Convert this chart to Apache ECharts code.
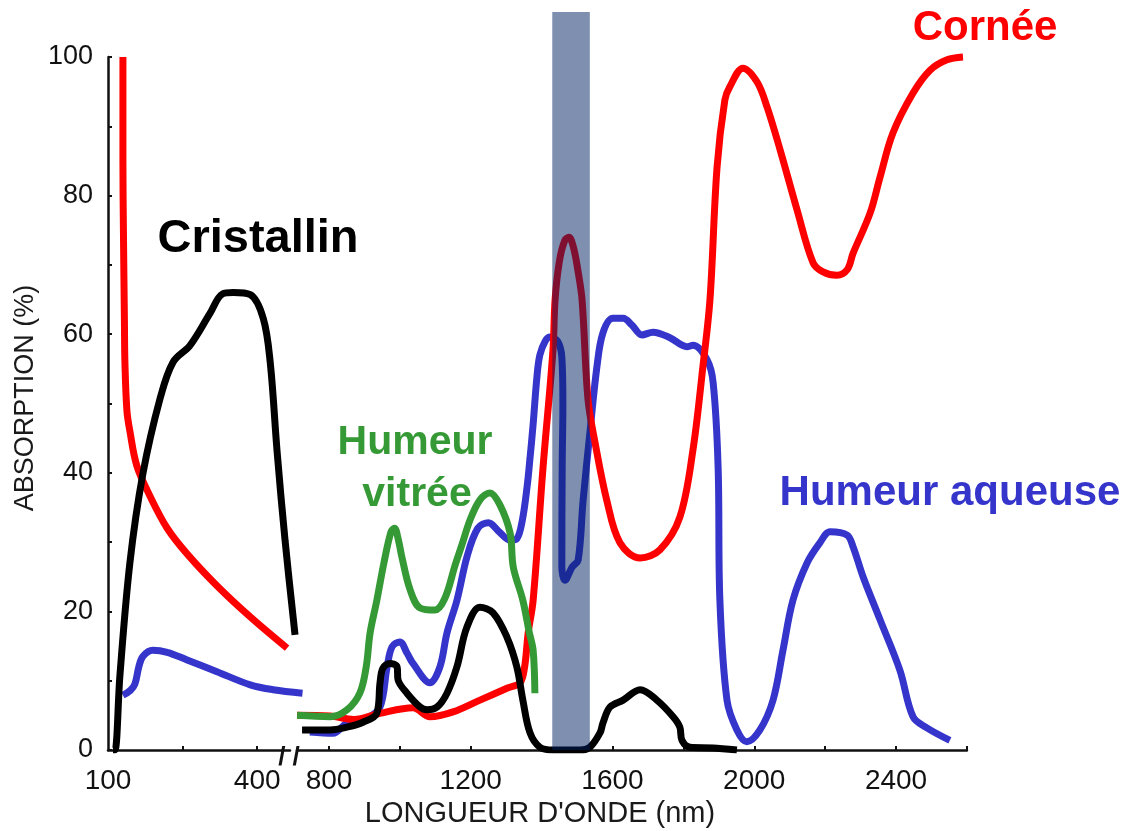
<!DOCTYPE html>
<html><head><meta charset="utf-8">
<style>html,body{margin:0;padding:0;background:#fff}#c{width:1127px;height:831px}</style>
<script src="https://cdn.jsdelivr.net/npm/echarts@6/dist/echarts.min.js"></script>
</head><body><div id="c"></div>
<script>
// ---- data (wavelength nm, absorption %) ----
// left segment (100-490 nm)
const corneeLeft = [[130,100],[130,85],[131,75],[133,62],[134,56],[138,49],[144,46],[158,41],[184,36.7],[219,32],[259,28.3],[319,23.7],[386,19.2],[460,14.7]];
const cristallinLeft = [[110,0],[114,0],[124,10.8],[144,27],[170,39.8],[205,50.8],[231,56],[265,58.4],[305,63],[330,65.8],[352,66],[386,65.7],[412,62.3],[426,56],[440,43],[456,30.2],[476,16.6]];
const aqueuseLeft = [[130,7.9],[145,8.6],[154,9.5],[162,12],[170,13.5],[190,14.4],[219,14.1],[259,13],[319,11.3],[386,9.4],[432,8.7],[491,8.2]];
// right segment (710-2600 nm)
const corneeRight = [[710,5.0],[803,4.9],[870,4.4],[944,5.3],[1037,6.1],[1085,4.8],[1150,5.5],[1226,7.2],[1302,8.9],[1339,9.7],[1352,12],[1362,16.9],[1376,21.6],[1404,40.8],[1432,57.7],[1438,65],[1450,70.5],[1465,73.5],[1477,74],[1490,72.5],[1503,69],[1514,65],[1531,50.5],[1551,44.3],[1584,36],[1621,29.9],[1678,27.7],[1734,28.9],[1790,33.6],[1827,43.3],[1855,55.3],[1875,65],[1895,84.1],[1917,93.8],[1931,95.7],[1968,98.4],[2008,96.4],[2036,92.8],[2073,86.6],[2121,77.9],[2166,70.3],[2194,69],[2233,68.5],[2262,69.3],[2279,71.7],[2327,77.5],[2355,82.7],[2391,89],[2448,94.8],[2496,98.1],[2544,99.6],[2589,100]];
const vitreeRight = [[710,5.0],[803,4.8],[851,5.8],[887,8.2],[905,12],[916,16.9],[935,21.6],[955,27],[975,31.5],[985,32],[995,30.5],[1005,28],[1029,23.1],[1057,20.5],[1099,20.2],[1127,21.9],[1156,26.7],[1175,29.6],[1198,33.2],[1226,36.1],[1254,37.1],[1282,35.4],[1311,31.3],[1320,26.4],[1347,21.6],[1365,17],[1376,14.4],[1381,8.2]];
const aqueuseRight = [[746,2.6],[811,2.4],[851,3.9],[907,4.6],[944,6.2],[964,12],[978,14.9],[1000,15.6],[1020,14],[1037,12.5],[1085,9.7],[1113,12],[1133,16.9],[1161,21.6],[1190,28],[1220,32],[1250,32.8],[1280,31.5],[1311,30.3],[1330,30.5],[1345,33],[1359,38],[1367,42],[1376,47],[1387,54],[1395,57],[1410,59],[1424,59.6],[1446,58.9],[1457,56.7],[1460,50],[1458,40.8],[1457,26.4],[1466,24.5],[1486,26.4],[1503,27.4],[1517,36],[1536,45.7],[1556,55.3],[1573,60.2],[1601,62.3],[1630,62.3],[1655,61.3],[1683,59.9],[1714,60.3],[1762,59.5],[1810,58.2],[1827,58.4],[1867,56.3],[1884,53],[1898,40.8],[1903,21.6],[1923,7.2],[1951,2.9],[1979,1.2],[2016,2.9],[2053,7.2],[2081,14.4],[2109,21.6],[2149,27],[2185,29.9],[2214,31.5],[2262,31],[2279,29.3],[2307,25],[2355,18.8],[2411,11.5],[2448,4.8],[2487,3.2],[2552,1.4]];
const cristallinRight = [[724,2.9],[803,2.9],[851,3.3],[896,4.0],[935,5.3],[944,9.7],[952,11.8],[972,12.5],[992,12],[995,10.1],[1020,8.2],[1057,6.2],[1077,5.8],[1105,6.2],[1133,8.2],[1161,12],[1189,17.7],[1226,20.6],[1263,19.8],[1302,16.3],[1330,12],[1347,7.2],[1367,2.5],[1395,0.4],[1432,0],[1508,0],[1536,0.4],[1565,2.5],[1573,3.9],[1593,6.2],[1630,7.2],[1678,8.7],[1725,7.2],[1771,4.8],[1790,3.3],[1796,1.4],[1819,0.4],[1884,0.3],[1951,0]];
// shaded band (nm)
const bandRange = [1430, 1536];
// ticks / labels
const leftTickValues = [250, 400];
const leftLabelValues = [100, 400];
const rightTickValues = [800,1000,1200,1400,1600,1800,2000,2200,2400,2600];
const rightLabelValues = [800,1200,1600,2000,2400];
const yLabelStep = 20;

const FONT = '"Liberation Sans", Arial, sans-serif';
const RED = '#ff0000', BLUE = '#3535cc', GREEN = '#359a35', BLACK = '#000000';
const AX = '#111111';

function line(data, color, xi, z) {
  return {
    type: 'line', data: data, xAxisIndex: xi, yAxisIndex: xi,
    symbol: 'none', smooth: 0.35, z: z, silent: true,
    lineStyle: { color: color, width: 7 }
  };
}
const plain = function (v) { return String(v); };

const chart = echarts.init(document.getElementById('c'), null, { renderer: 'canvas' });
chart.setOption({
  animation: false,
  backgroundColor: '#ffffff',
  grid: [
    { left: 108, top: 57, width: 195, height: 693 },      // left data
    { left: 297.1, top: 12, width: 669.8, height: 738 },  // right data (+ band)
    { left: 108, top: 57, width: 182, height: 693 }       // left axis display
  ],
  xAxis: [
    { type: 'value', gridIndex: 0, min: 100, max: 492, show: false, splitLine: { show: false } },
    { type: 'value', gridIndex: 1, min: 710, max: 2600,
      axisLine: { lineStyle: { color: AX, width: 2.5 } },
      axisTick: { customValues: rightTickValues, inside: true, length: 4, lineStyle: { color: AX, width: 2 } },
      axisLabel: { customValues: rightLabelValues, formatter: plain, color: AX, fontSize: 28, fontFamily: FONT, margin: 17 },
      splitLine: { show: false } },
    { type: 'value', gridIndex: 2, min: 100, max: 466,
      axisLine: { lineStyle: { color: AX, width: 2.5 } },
      axisTick: { customValues: leftTickValues, inside: true, length: 4, lineStyle: { color: AX, width: 2 } },
      axisLabel: { customValues: leftLabelValues, formatter: plain, color: AX, fontSize: 28, fontFamily: FONT, margin: 17 },
      splitLine: { show: false } }
  ],
  yAxis: [
    { type: 'value', gridIndex: 0, min: 0, max: 100, interval: 10,
      axisLine: { show: true, lineStyle: { color: AX, width: 2.5 } },
      axisTick: { show: true, inside: true, length: 4, lineStyle: { color: AX, width: 2 } },
      axisLabel: { color: AX, fontSize: 27, fontFamily: FONT, margin: 15,
        formatter: function (v) { return v % yLabelStep === 0 ? String(v) : ''; } },
      splitLine: { show: false } },
    { type: 'value', gridIndex: 1, min: 0, max: 106.5, show: false, splitLine: { show: false } },
    { type: 'value', gridIndex: 2, min: 0, max: 100, show: false, splitLine: { show: false } }
  ],
  series: [
    line(aqueuseLeft, BLUE, 0, 2),
    line(corneeLeft, RED, 0, 3),
    line(cristallinLeft, BLACK, 0, 4),
    line(aqueuseRight, BLUE, 1, 2),
    line(corneeRight, RED, 1, 3),
    line(vitreeRight, GREEN, 1, 4),
    line(cristallinRight, BLACK, 1, 5),
    { type: 'line', xAxisIndex: 1, yAxisIndex: 1, data: [], z: 10, silent: true,
      markArea: { silent: true, z: 10,
        itemStyle: { color: 'rgba(0,31,97,0.5)', borderWidth: 0 },
        data: [[{ xAxis: bandRange[0] }, { xAxis: bandRange[1] }]] } }
  ],
  graphic: [
    { type: 'text', x: 258, y: 239, z: 20, style: { text: 'Cristallin', fill: BLACK, font: 'bold 47px ' + FONT, align: 'center', verticalAlign: 'middle' } },
    { type: 'text', x: 985, y: 28, z: 20, style: { text: 'Cornée', fill: RED, font: 'bold 42px ' + FONT, align: 'center', verticalAlign: 'middle' } },
    { type: 'text', x: 950, y: 493, z: 20, style: { text: 'Humeur aqueuse', fill: BLUE, font: 'bold 42px ' + FONT, align: 'center', verticalAlign: 'middle' } },
    { type: 'text', x: 415, y: 443, z: 20, style: { text: 'Humeur', fill: GREEN, font: 'bold 41px ' + FONT, align: 'center', verticalAlign: 'middle' } },
    { type: 'text', x: 417, y: 495, z: 20, style: { text: 'vitrée', fill: GREEN, font: 'bold 41px ' + FONT, align: 'center', verticalAlign: 'middle' } },
    { type: 'text', x: 540, y: 814, z: 20, style: { text: "LONGUEUR D'ONDE (nm)", fill: '#1a1a1a', font: '29px ' + FONT, align: 'center', verticalAlign: 'middle' } },
    { type: 'text', x: 26, y: 398, rotation: Math.PI / 2, z: 20, style: { text: 'ABSORPTION (%)', fill: '#1a1a1a', font: '27px ' + FONT, align: 'center', verticalAlign: 'middle' } },
    { type: 'text', x: 289, y: 758, z: 20, style: { text: '/ /', fill: AX, font: 'bold 26px ' + FONT, align: 'center', verticalAlign: 'middle' } }
  ]
});
</script></body></html>
